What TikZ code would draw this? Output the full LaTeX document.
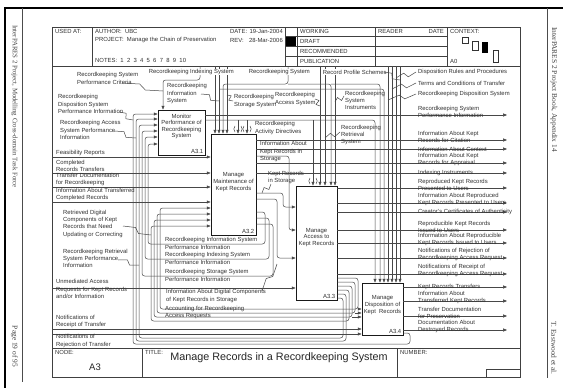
\documentclass[tikz,border=0pt]{standalone}
\usepackage{fontspec}
\setmainfont{Liberation Sans}
\newfontfamily\sideserif{Liberation Serif}
\usetikzlibrary{arrows.meta,calc}

% lightning-bolt leader from a label to the arrow it names
\newcommand\boltline[2]{%
  \draw[lnk,rounded corners=0pt] (#1) -- ($(#1)!0.42!(#2)!2.4pt!90:(#2)$) -- ($(#1)!0.58!(#2)!2.4pt!-90:(#2)$) -- (#2);}
% parentheses marking a tunnelled arrow end
\newcommand\tunnelmark[2]{%
  \draw[lnk,rounded corners=0pt] (#1-3,#2-8) .. controls (#1-4.6,#2-5) .. (#1-3,#2-2);
  \draw[lnk,rounded corners=0pt] (#1+3,#2-8) .. controls (#1+4.6,#2-5) .. (#1+3,#2-2);}

\begin{document}
\begin{tikzpicture}[x=1pt,y=-1pt,
  lnk/.style={draw=black!72, line width=0.5pt, rounded corners=2.6pt},
  arr/.style={lnk, -{Triangle[length=3.8pt,width=3pt]}},
  procbox/.style={draw=black!90, line width=0.9pt, inner sep=0pt},
  frameline/.style={draw=black!75, line width=0.6pt},
  lbl/.style={font=\fontsize{5.9}{7.2}\selectfont, text=black!80, inner sep=0pt, align=left},
  boxtxt/.style={lbl, align=center, font=\fontsize{5.9}{6.6}\selectfont},
  hdr/.style={lbl, anchor=west},
  toplbl/.style={lbl, fill=white, inner sep=0.7pt},
  sidetext/.style={font=\sideserif\fontsize{7.4}{9}\selectfont, text=black!75, inner sep=0pt, rotate=-90}
]
\useasboundingbox (0,0) rectangle (563,388);
\fill[white] (0,0) rectangle (563,388);

% ---------- page margins and running heads ----------
\draw[black, line width=1.8pt] (5,388) -- (5,8) -- (563,8);
\draw[black!70, line width=0.5pt] (22,8) -- (22,382);
\draw[black!70, line width=0.5pt] (547,8) -- (547,378);
\node[sidetext, anchor=west, font=\sideserif\fontsize{6.8}{9}\selectfont] at (14.5,25) {InterPARES 2 Project, Modelling Cross-domain Task Force};
\node[sidetext, anchor=east] at (14.5,367) {Page 19 of 95};
\node[sidetext, anchor=west] at (554,27) {InterPARES 2 Project Book, Appendix 14};
\node[sidetext, anchor=east] at (554,375) {T. Eastwood et al.};

% ---------- diagram form ----------
\draw[frameline, line width=0.8pt] (52,27) rectangle (520,377);
\draw[frameline] (52,66) -- (520,66);
\foreach \x in {92,285,297,375,447} \draw[frameline] (\x,27) -- (\x,66);
\foreach \y in {36.5,46.5,56} \draw[frameline] (285,\y) -- (447,\y);
\fill[black] (286,37.3) rectangle (296,45.8);
\draw[black!80, line width=0.5pt] (462,37) rectangle (468,43);
\draw[black!80, line width=0.5pt] (472,41) rectangle (478,50);
\fill[black] (482,42) rectangle (488,53);
\draw[black!80, line width=0.5pt] (493,50) rectangle (498,62);
\draw[frameline] (52,348) -- (520,348);
\draw[frameline] (142,348) -- (142,377);
\draw[frameline] (397,348) -- (397,377);
\draw[frameline] (486,369) rectangle (520,377);

\node[hdr] at (55,31.5) {USED AT:};
\node[hdr] at (95,31.5) {AUTHOR:\ \ UBC};
\node[hdr] at (95,40) {PROJECT:\ \ Manage the Chain of Preservation};
\node[hdr] at (95,60.5) {NOTES:\ \ 1\ \ 2\ \ 3\ \ 4\ \ 5\ \ 6\ \ 7\ \ 8\ \ 9\ \ 10};
\node[hdr] at (230,31.5) {DATE:};
\node[lbl, anchor=east] at (283,31.5) {19-Jan-2004};
\node[hdr] at (230,40) {REV:};
\node[lbl, anchor=east] at (283,40) {28-Mar-2006};
\node[hdr] at (300,31.5) {WORKING};
\node[hdr] at (300,41.5) {DRAFT};
\node[hdr] at (300,51.3) {RECOMMENDED};
\node[hdr] at (300,61) {PUBLICATION};
\node[hdr] at (378,31.5) {READER};
\node[lbl, anchor=east] at (444,31.5) {DATE};
\node[hdr] at (450,31.5) {CONTEXT:};
\node[hdr] at (450,61) {A0};
\node[hdr] at (55,352) {NODE:};
\node[font=\fontsize{9.5}{11}\selectfont, text=black!85] at (95,367) {A3};
\node[hdr] at (145,352) {TITLE:};
\node[font=\fontsize{10.8}{13}\selectfont, text=black!85] at (279,358) {Manage Records in a Recordkeeping System};
\node[hdr] at (400,352) {NUMBER:};

% ---------- activity boxes ----------
\node[procbox, minimum width=47pt, minimum height=45pt] (A31) at (181.5,132.5) {};
\node[procbox, minimum width=45pt, minimum height=101pt] (A32) at (233.5,184.5) {};
\node[procbox, minimum width=41pt, minimum height=114pt] (A33) at (316.5,243) {};
\node[procbox, minimum width=41pt, minimum height=52pt] (A34) at (382.5,309) {};
\node[boxtxt] at (181.5,126.5) {Monitor\\Performance of\\Recordkeeping\\System};
\node[boxtxt] at (233.5,182) {Manage\\Maintenance of\\Kept Records};
\node[boxtxt] at (316.5,237.5) {Manage\\Access to\\Kept Records};
\node[boxtxt] at (382.5,305) {Manage\\Disposition of\\Kept\ \ Records};
\node[lbl, anchor=south east] at ([xshift=-2pt,yshift=1.8pt]A31.south east) {A3.1};
\node[lbl, anchor=south east] at ([xshift=-2pt,yshift=1.8pt]A32.south east) {A3.2};
\node[lbl, anchor=south east] at ([xshift=-2pt,yshift=1.8pt]A33.south east) {A3.3};
\node[lbl, anchor=south east] at ([xshift=-2pt,yshift=1.8pt]A34.south east) {A3.4};

% ---------- controls entering from the top ----------
\coordinate (cCri) at (200,66);
\coordinate (cIdx) at (215,66);
\coordinate (cInf) at (219,66);
\coordinate (cSto) at (227,66);
\coordinate (cSys) at (288,66);
\coordinate (cAcc) at (320,66);
\coordinate (cRet) at (325,66);
\coordinate (cIns) at (335,66);
\coordinate (cDsp) at (388,66);
\coordinate (cTrm) at (392,66);
\coordinate (cRul) at (396,66);
\coordinate (cPro) at (400,66);
\draw[arr] (cCri) -- (200,80) -- (163,80) -- (163,0 |- A31.north);
\draw[arr] (cIdx) -- (cIdx |- A32.north);
\draw[arr] (cInf) -- (cInf |- A32.north);
\draw[arr] (cInf |- 0,89) -- (384,89) -- (384,0 |- A34.north);
\draw[arr] (cSto) -- (cSto |- A32.north);
\draw[arr] (cSys) -- (288,84) -- (223,84) -- (223,0 |- A32.north);
\draw[arr] (288,84) -- (331,84) -- (331,0 |- A33.north);
\draw[arr] (331,84) -- (380,84) -- (380,0 |- A34.north);
\draw[arr] (cAcc) -- (cAcc |- A33.north);
\draw[arr] (cRet) -- (cRet |- A33.north);
\draw[arr] (cIns) -- (cIns |- A33.north);
\draw[arr] (cDsp) -- (cDsp |- A34.north);
\draw[arr] (cTrm) -- (cTrm |- A34.north);
\draw[arr] (cRul) -- (cRul |- A34.north);
\draw[arr] (cPro) -- (cPro |- A34.north);

% activity directives from A3.1
\draw[arr] (A31.east |- 0,120) -- (375,120) -- (375,0 |- A34.north);
\draw[arr] (238,120) -- (238,0 |- A32.north);
\draw[arr] (247,120) -- (247,0 |- A32.north);
\draw[arr] (313,120) -- (313,0 |- A33.north);
\tunnelmark{238}{134}
\tunnelmark{247}{134}
\tunnelmark{313}{186}

% ---------- outputs to the right boundary ----------
\coordinate (r1) at (507,115);
\coordinate (r2) at (507,140);
\coordinate (r3) at (507,149);
\coordinate (r4) at (507,163);
\coordinate (r5) at (507,173);
\coordinate (r6) at (507,188);
\coordinate (r7) at (507,203);
\coordinate (r8) at (507,212);
\coordinate (r9) at (507,230);
\coordinate (r10) at (507,243);
\coordinate (r11) at (507,258);
\coordinate (r12) at (507,274);
\coordinate (r13) at (507,287);
\coordinate (r14) at (507,301);
\coordinate (r15) at (507,316);
\coordinate (r16) at (507,330);
\draw[arr] (r1 -| A31.east) -- (r1);
\foreach \r in {r2,r3,r4,r5} \draw[arr] (\r -| A32.east) -- (\r);
\foreach \r in {r6,r7,r8,r9,r10,r11,r12} \draw[arr] (\r -| A33.east) -- (\r);
\foreach \r in {r13,r14,r15,r16} \draw[arr] (\r -| A34.east) -- (\r);

% ---------- flows between the activities ----------
\draw[arr] (A32.east |- 0,156) -- (289,156) -- (289,230) -- (A33.west |- 0,230);
\draw[arr] (A32.east |- 0,193) -- (283,193) -- (283,207) -- (A33.west |- 0,207);
\draw[arr] (A32.east |- 0,199) -- (277,199) -- (277,258) -- (A33.west |- 0,258);
% performance information back to A3.1
\draw[arr] (A32.east |- 0,212) -- (265,212) -- (265,244) -- (148,244) -- (148,144) -- (A31.west |- 0,144);
\draw[arr] (A32.east |- 0,218) -- (269,218) -- (269,259) -- (145,259) -- (145,137) -- (A31.west |- 0,137);
\draw[arr] (A32.east |- 0,224) -- (273,224) -- (273,276) -- (142,276) -- (142,131) -- (A31.west |- 0,131);
\draw[arr] (A33.east |- 0,294) -- (346,294) -- (346,341) -- (136,341) -- (136,119) -- (A31.west |- 0,119);
\draw[arr] (A33.east |- 0,298) -- (343,298) -- (343,338) -- (139,338) -- (139,125) -- (A31.west |- 0,125);
\draw[arr] (A34.east |- 0,333) -- (410,333) -- (410,344) -- (133,344) -- (133,114) -- (A31.west |- 0,114);
% feedback from A3.3 to A3.2 and A3.4
\draw[arr] (A33.east |- 0,278) -- (358,278) -- (358,309) -- (160,309) -- (160,208) -- (A32.west |- 0,208);
\draw[arr] (358,309) -- (A34.west |- 0,309);
\draw[arr] (A33.east |- 0,282) -- (355,282) -- (355,313) -- (157,313) -- (157,214) -- (A32.west |- 0,214);
\draw[arr] (355,313) -- (A34.west |- 0,313);
\draw[arr] (A33.east |- 0,286) -- (352,286) -- (352,317) -- (154,317) -- (154,220) -- (A32.west |- 0,220);
\draw[arr] (352,317) -- (A34.west |- 0,317);
\draw[arr] (A33.east |- 0,290) -- (349,290) -- (349,321) -- (151,321) -- (151,226) -- (A32.west |- 0,226);

% ---------- inputs from the left boundary ----------
\coordinate (iFea) at (52,157);
\coordinate (iCrt) at (52,173);
\coordinate (iTdr) at (52,187);
\coordinate (iInf) at (52,202);
\coordinate (iUnm) at (52,288);
\coordinate (iRcp) at (52,329);
\coordinate (iRej) at (52,334);
\foreach \i in {iFea,iCrt,iTdr,iInf} \draw[arr] (\i) -- (\i -| A32.west);
\draw[arr] (iUnm) -- (iUnm -| A33.west);
\draw[arr] (iRcp) -- (iRcp -| A34.west);
\draw[arr] (iRej) -- (iRej -| A34.west);

% ---------- labels ----------
\node[toplbl, anchor=west] at (148,72) {Recordkeeping Indexing System};
\node[toplbl, anchor=west] at (248,72) {Recordkeeping System};
\node[toplbl, anchor=west] at (322,72) {Record Profile Schemes};
\node[lbl, anchor=west] at (418,72) {Disposition Rules and Procedures};
\node[lbl, anchor=west] at (418,83) {Terms and Conditions of Transfer};
\node[lbl, anchor=west] at (418,94) {Recordkeeping Disposition System};
\boltline{384,72}{400,80}
\boltline{416,72}{396,78}
\boltline{416,83}{392,89}
\boltline{416,94}{388,100}

\node[lbl, anchor=north west] at (77,72.5) {Recordkeeping System\\Performance Criteria};
\boltline{122,83}{163,91}
\node[lbl, anchor=north west] at (167,83.5) {Recordkeeping\\Information\\System};
\boltline{201,94}{219,101}
\node[lbl, anchor=north west] at (234,94.5) {Recordkeeping\\Storage System};
\boltline{233,101}{227,95}
\node[lbl, anchor=north west] at (275,92.5) {Recordkeeping\\Access System};
\boltline{315,99}{320,106}
\node[lbl, anchor=north west] at (345,91) {Recordkeeping\\System\\Instruments};
\boltline{344,96}{335,102}
\node[lbl, anchor=north west] at (255,121.5) {Recordkeeping\\Activity Directives};
\node[lbl, anchor=north west] at (341,125) {Recordkeeping\\Retrieval\\System};
\boltline{340,132}{325,138}
\node[lbl, anchor=north west] at (260,141.5) {Information About\\Kept Records in\\Storage};
\node[lbl, anchor=north west] at (268,171) {Kept Records\\in Storage};
\boltline{271,184}{262,193}

\node[lbl, anchor=north west] at (58,94.5) {Recordkeeping\\Disposition System\\Performance Information};
\boltline{119,112}{133,120}
\node[lbl, anchor=north west] at (60,120.5) {Recordkeeping Access\\System Performance\\Information};
\boltline{114,131}{136,138}
\node[lbl, anchor=south west] at (56,156) {Feasibility Reports};
\node[lbl, anchor=south west] at (56,172) {Completed\\Records Transfers};
\node[lbl, anchor=south west] at (56,186) {Transfer Documentation\\for Recordkeeping};
\node[lbl, anchor=south west] at (56,201) {Information About Transferred\\Completed Records};
\node[lbl, anchor=north west] at (63,210) {Retrieved Digital\\Components of Kept\\Records that Need\\Updating or Correcting};
\boltline{123,226}{151,235}
\node[lbl, anchor=north west] at (63,249) {Recordkeeping Retrieval\\System Performance\\Information};
\boltline{118,260}{139,265}
\node[lbl, anchor=north west] at (56,279.5) {Unmediated Access\\Requests for Kept Records\\and/or Information};
\node[lbl, anchor=south west] at (56,328) {Notifications of\\Receipt of Transfer};
\node[lbl, anchor=north west] at (56,334.5) {Notifications of\\Rejection of Transfer};

\node[lbl, anchor=north west] at (165,237.5) {Recordkeeping Information System\\Performance Information};
\node[lbl, anchor=north west] at (165,252.5) {Recordkeeping Indexing System\\Performance Information};
\node[lbl, anchor=north west] at (165,269.5) {Recordkeeping Storage System\\Performance Information};
\node[lbl, anchor=north west] at (166,289.5) {Information About Digital Components\\of Kept Records in Storage};
\boltline{262,291}{277,264}
\node[lbl, anchor=north west] at (165,306) {Accounting for Recordkeeping\\Access Requests};

\node[lbl, anchor=south west] at (418,118) {Recordkeeping System\\Performance Information};
\node[lbl, anchor=south west] at (418,143) {Information About Kept\\Records for Citation};
\node[lbl, anchor=south west] at (418,152) {Information About Context};
\node[lbl, anchor=south west] at (418,166) {Information About Kept\\Records for Appraisal};
\node[lbl, anchor=south west] at (418,176) {Indexing Instruments};
\node[lbl, anchor=south west] at (418,191) {Reproduced Kept Records\\Presented to Users};
\node[lbl, anchor=south west] at (418,206) {Information About Reproduced\\Kept Records Presented to Users};
\node[lbl, anchor=south west] at (418,215) {Creator's Certificates of Authenticity};
\node[lbl, anchor=south west] at (418,233) {Reproducible Kept Records\\Issued to Users};
\node[lbl, anchor=south west] at (418,246) {Information About Reproducible\\Kept Records Issued to Users};
\node[lbl, anchor=south west] at (418,261) {Notifications of Rejection of\\Recordkeeping Access Request};
\node[lbl, anchor=south west] at (418,277) {Notifications of Receipt of\\Recordkeeping Access Request};
\node[lbl, anchor=south west] at (418,290) {Kept Records Transfers};
\node[lbl, anchor=south west] at (418,304) {Information About\\Transferred Kept Records};
\node[lbl, anchor=south west] at (418,319) {Transfer Documentation\\for Preservation};
\node[lbl, anchor=south west] at (418,333) {Documentation About\\Destroyed Records};
\end{tikzpicture}
\end{document}
